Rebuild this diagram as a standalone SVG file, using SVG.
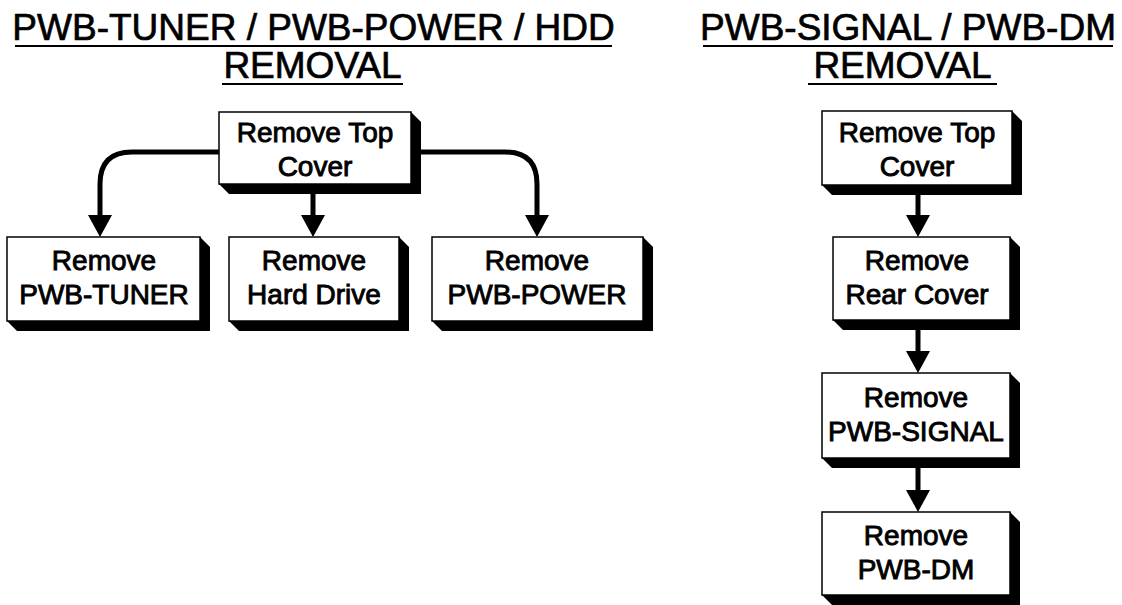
<svg xmlns="http://www.w3.org/2000/svg" width="1122" height="605" viewBox="0 0 1122 605">
<style>
.title{font-family:"Liberation Sans",Arial,sans-serif;font-size:37px;fill:#000;stroke:#000;stroke-width:0.7;text-anchor:middle}
.ul{stroke:#000;stroke-width:2}
.box{fill:#fff;stroke:#000;stroke-width:1.5}
.sh{fill:#000}
.lbl{font-family:"Liberation Sans",Arial,sans-serif;font-size:28px;fill:#000;stroke:#000;stroke-width:0.9;text-anchor:middle}
.conn{fill:none;stroke:#000;stroke-width:5}
</style>
<defs>
<marker id="ah" markerUnits="userSpaceOnUse" markerWidth="22" markerHeight="24" refX="0" refY="12" orient="auto" viewBox="0 0 22 24">
<path d="M0,0 L22,12 L0,24 Z" fill="#000"/>
</marker>
</defs>
<rect width="1122" height="605" fill="#fff"/>
<g id="titles">
<text class="title" x="313.5" y="40">PWB-TUNER / PWB-POWER / HDD</text>
<line class="ul" x1="15" y1="46" x2="612" y2="46"/>
<text class="title" x="312.5" y="78">REMOVAL</text>
<line class="ul" x1="222" y1="84" x2="403" y2="84"/>
<text class="title" x="908" y="40">PWB-SIGNAL / PWB-DM</text>
<line class="ul" x1="703" y1="46" x2="1113" y2="46"/>
<text class="title" x="902.5" y="78">REMOVAL</text>
<line class="ul" x1="808" y1="84" x2="997" y2="84"/>
</g>
<g id="connectors">
<path class="conn" d="M219,152 H132 Q100,152 100,184 V215" marker-end="url(#ah)"/>
<path class="conn" d="M313,184 V215" marker-end="url(#ah)"/>
<path class="conn" d="M411,152 H505 Q537,152 537,184 V215" marker-end="url(#ah)"/>
<path class="conn" d="M918,185 V215" marker-end="url(#ah)"/>
<path class="conn" d="M918,320 V351" marker-end="url(#ah)"/>
<path class="conn" d="M918,458 V490" marker-end="url(#ah)"/>
</g>
<g id="n1">
<polygon class="sh" points="411,112 421,122 421,194 229,194 219,184"/>
<rect class="box" x="219" y="112" width="192" height="72"/>
<text class="lbl" x="315" y="142">Remove Top</text>
<text class="lbl" x="315" y="176">Cover</text>
</g>
<g id="n2">
<polygon class="sh" points="200,237 210,247 210,331 17,331 7,321"/>
<rect class="box" x="7" y="237" width="193" height="84"/>
<text class="lbl" x="104" y="270">Remove</text>
<text class="lbl" x="104" y="304">PWB-TUNER</text>
</g>
<g id="n3">
<polygon class="sh" points="399,237 409,247 409,331 239,331 229,321"/>
<rect class="box" x="229" y="237" width="170" height="84"/>
<text class="lbl" x="314" y="270">Remove</text>
<text class="lbl" x="314" y="304">Hard Drive</text>
</g>
<g id="n4">
<polygon class="sh" points="643,237 653,247 653,331 442,331 432,321"/>
<rect class="box" x="432" y="237" width="211" height="84"/>
<text class="lbl" x="537" y="270">Remove</text>
<text class="lbl" x="537" y="304">PWB-POWER</text>
</g>
<g id="n5">
<polygon class="sh" points="1012,111 1022,121 1022,195 832,195 822,185"/>
<rect class="box" x="822" y="111" width="190" height="74"/>
<text class="lbl" x="917" y="142">Remove Top</text>
<text class="lbl" x="917" y="176">Cover</text>
</g>
<g id="n6">
<polygon class="sh" points="1010,237 1020,247 1020,330 843,330 833,320"/>
<rect class="box" x="833" y="237" width="177" height="83"/>
<text class="lbl" x="917" y="270">Remove</text>
<text class="lbl" x="917" y="304">Rear Cover</text>
</g>
<g id="n7">
<polygon class="sh" points="1010,373 1020,383 1020,468 832,468 822,458"/>
<rect class="box" x="822" y="373" width="188" height="85"/>
<text class="lbl" x="916" y="407">Remove</text>
<text class="lbl" x="916" y="441">PWB-SIGNAL</text>
</g>
<g id="n8">
<polygon class="sh" points="1010,512 1020,522 1020,605 832,605 822,595"/>
<rect class="box" x="822" y="512" width="188" height="83"/>
<text class="lbl" x="916" y="545">Remove</text>
<text class="lbl" x="916" y="579">PWB-DM</text>
</g>
</svg>
